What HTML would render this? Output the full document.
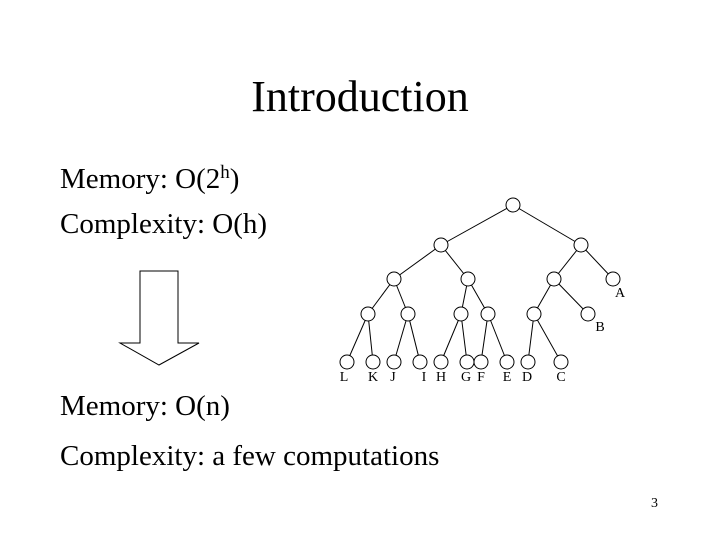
<!DOCTYPE html>
<html><head><style>
body{margin:0;width:720px;height:540px;background:#fff;overflow:hidden;position:relative;font-family:"Liberation Serif",serif;color:#000}
.t{position:absolute;white-space:nowrap;line-height:1}
</style></head><body>
<div class="t" style="left:0;width:720px;text-align:center;top:75px;font-size:44px;padding-left:0"><span style="position:relative;left:0">Introduction</span></div>
<div class="t" style="left:60px;top:165px;font-size:29px">Memory: O(2<sup style="font-size:19px;vertical-align:10px;line-height:0">h</sup>)</div>
<div class="t" style="left:60px;top:210px;font-size:29px">Complexity: O(h)</div>
<div class="t" style="left:60px;top:392px;font-size:29px">Memory: O(n)</div>
<div class="t" style="left:60px;top:442px;font-size:29px">Complexity: a few computations</div>
<div class="t" style="left:651px;top:497px;font-size:14px">3</div>
<svg width="720" height="540" style="position:absolute;left:0;top:0" font-family="Liberation Serif, serif" font-size="14">
<polygon points="140,271 178,271 178,343 199,343 159,365 120,343 140,343" fill="none" stroke="#000" stroke-width="1"/>
<g stroke="#000" stroke-width="1" fill="none">
<line x1="513" y1="205" x2="441" y2="245"/><line x1="513" y1="205" x2="581" y2="245"/>
<line x1="441" y1="245" x2="394" y2="279"/><line x1="441" y1="245" x2="468" y2="279"/>
<line x1="581" y1="245" x2="554" y2="279"/><line x1="581" y1="245" x2="613" y2="279"/>
<line x1="394" y1="279" x2="368" y2="314"/><line x1="394" y1="279" x2="408" y2="314"/>
<line x1="468" y1="279" x2="461" y2="314"/><line x1="468" y1="279" x2="488" y2="314"/>
<line x1="554" y1="279" x2="534" y2="314"/><line x1="554" y1="279" x2="588" y2="314"/>
<line x1="368" y1="314" x2="347" y2="362"/><line x1="368" y1="314" x2="373" y2="362"/>
<line x1="408" y1="314" x2="394" y2="362"/><line x1="408" y1="314" x2="420" y2="362"/>
<line x1="461" y1="314" x2="441" y2="362"/><line x1="461" y1="314" x2="467" y2="362"/>
<line x1="488" y1="314" x2="481" y2="362"/><line x1="488" y1="314" x2="507" y2="362"/>
<line x1="534" y1="314" x2="528" y2="362"/><line x1="534" y1="314" x2="561" y2="362"/>
</g>
<g stroke="#000" stroke-width="1" fill="#fff">
<circle cx="513" cy="205" r="7"/>
<circle cx="441" cy="245" r="7"/><circle cx="581" cy="245" r="7"/>
<circle cx="394" cy="279" r="7"/><circle cx="468" cy="279" r="7"/><circle cx="554" cy="279" r="7"/><circle cx="613" cy="279" r="7"/>
<circle cx="368" cy="314" r="7"/><circle cx="408" cy="314" r="7"/><circle cx="461" cy="314" r="7"/><circle cx="488" cy="314" r="7"/><circle cx="534" cy="314" r="7"/><circle cx="588" cy="314" r="7"/>
<circle cx="347" cy="362" r="7"/><circle cx="373" cy="362" r="7"/><circle cx="394" cy="362" r="7"/><circle cx="420" cy="362" r="7"/><circle cx="441" cy="362" r="7"/><circle cx="467" cy="362" r="7"/><circle cx="481" cy="362" r="7"/><circle cx="507" cy="362" r="7"/><circle cx="528" cy="362" r="7"/><circle cx="561" cy="362" r="7"/>
</g>
<g text-anchor="middle" fill="#000">
<text x="620" y="297">A</text><text x="600" y="331">B</text>
<text x="344" y="381">L</text><text x="373" y="381">K</text><text x="393" y="381">J</text><text x="424" y="381">I</text><text x="441" y="381">H</text><text x="466" y="381">G</text><text x="481" y="381">F</text><text x="507" y="381">E</text><text x="527" y="381">D</text><text x="561" y="381">C</text>
</g>
</svg>
</body></html>
